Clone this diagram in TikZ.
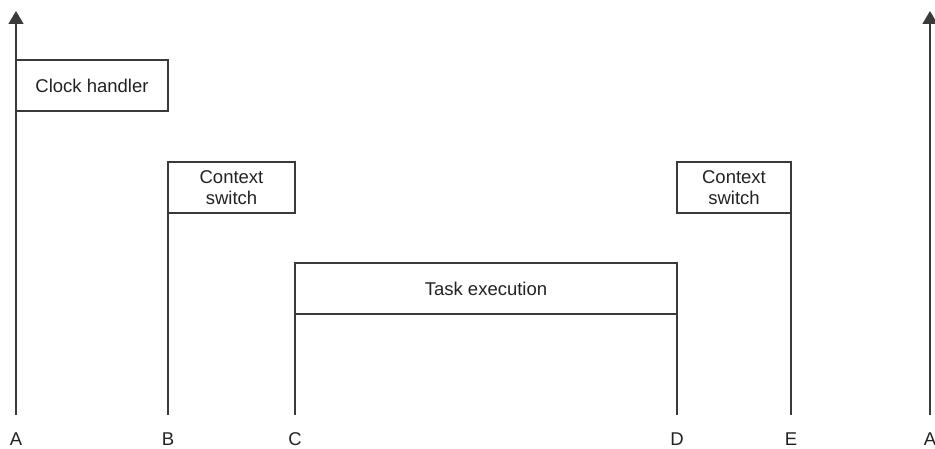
\documentclass[tikz,border=0pt]{standalone}
\usepackage{fontspec}
\setmainfont{Liberation Sans}
\usetikzlibrary{arrows.meta}
\definecolor{linec}{HTML}{3A3A3A}
\definecolor{textc}{HTML}{222222}
\begin{document}
\begin{tikzpicture}[x=1pt,y=-1pt,
  box/.style={draw=linec, line width=1.4pt, inner sep=0pt, outer sep=0pt, align=center,
    font=\fontsize{18.5}{21}\selectfont, text=textc, anchor=north west,
    minimum height=51pt},
  lbl/.style={font=\fontsize{18.5}{21}\selectfont, text=textc, anchor=base, inner sep=0pt},
  vline/.style={draw=linec, line width=1.4pt},
  uparrow/.style={-{Triangle[width=15pt,length=13pt]}}]
\useasboundingbox (0,0) rectangle (935,449);
% boxes
\node[box, minimum width=152pt] (clock) at (16,60) {Clock handler};
\node[box, minimum width=127pt] (cs1) at (168,162) {Context\\switch};
\node[box, minimum width=382pt] (task) at (295,263) {Task execution};
\node[box, minimum width=114pt] (cs2) at (677,162) {Context\\switch};
% line ends
\coordinate (bA) at (16,415);
\coordinate (tA) at (16,11);
\coordinate (bB) at (168,415);
\coordinate (bC) at (295,415);
\coordinate (bD) at (677,415);
\coordinate (bE) at (791,415);
\coordinate (bA2) at (930,415);
\coordinate (tA2) at (930,11);
% lines
\draw[vline,uparrow] (bA) -- (tA);
\draw[vline] (bB) -- (cs1.south west);
\draw[vline] (bC) -- (task.south west);
\draw[vline] (bD) -- (task.south east);
\draw[vline] (bE) -- (cs2.south east);
\draw[vline,uparrow] (bA2) -- (tA2);
% labels
\node[lbl] (lA) at (16,445) {A};
\node[lbl] (lB) at (168,445) {B};
\node[lbl] (lC) at (295,445) {C};
\node[lbl] (lD) at (677,445) {D};
\node[lbl] (lE) at (791,445) {E};
\node[lbl] (lA2) at (930,445) {A};
\end{tikzpicture}
\end{document}
